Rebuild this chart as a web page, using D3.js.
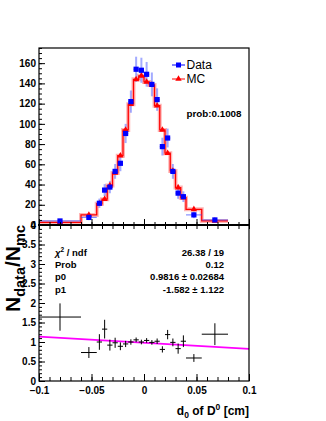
<!DOCTYPE html>
<html>
<head>
<meta charset="utf-8">
<script src="https://cdn.jsdelivr.net/npm/d3@7"></script>
<style>
  body { margin: 0; background: #fff; }
  svg { display: block; font-family: "Liberation Sans", Arial, sans-serif; }
</style>
</head>
<body>
<div id="chart"></div>
<script>
// bin edges of d0 (cm), variable width
var binEdges = [-0.1, -0.06, -0.045, -0.04, -0.035, -0.03, -0.025, -0.02, -0.015, -0.01, -0.005,
	0, 0.005, 0.01, 0.015, 0.02, 0.025, 0.03, 0.035, 0.04, 0.055, 0.08];

// upper pad: counts
var dataCounts = [4, 7.5, 21.5, 34.5, 37.5, 53, 61, 90.5, 122, 154, 153, 149, 139, 124, 77.5, 86, 53, 31.5, 28, 10, 5];
var dataErrors = [2, 2.7, 4.6, 5.9, 6.1, 7.3, 7.8, 9.5, 11, 12.4, 12.4, 12.2, 11.8, 11.1, 8.8, 9.3, 7.3, 5.6, 5.3, 3.2, 2.2];
var mcCounts = [2.5, 10, 21, 25.5, 39, 51.5, 68.5, 94, 119.5, 144, 147.5, 141.5, 138.5, 118, 94, 71, 53.5, 37, 27, 15.5, 4];

// lower pad: ratio data / mc
var ratioVals = [1.64, 0.73, 1.0, 1.33, 0.92, 0.98, 0.89, 0.95, 1.0, 1.055, 1.0, 1.04, 0.99, 1.02, 0.81, 1.19, 0.99, 0.83, 1.02, 0.59, 1.2];
var ratioErrs = [0.35, 0.14, 0.2, 0.24, 0.14, 0.13, 0.1, 0.08, 0.07, 0.06, 0.06, 0.06, 0.06, 0.07, 0.08, 0.12, 0.1, 0.13, 0.15, 0.1, 0.28];

// fit p0 + p1*x
var fitP0 = 0.9816, fitP1 = -1.582;
var statsRows = [
	["χ2 / ndf", "26.38 / 19"],
	["Prob", "0.12"],
	["p0", "0.9816 ± 0.02684"],
	["p1", "-1.582 ± 1.122"]
];

var xTicks = [-0.1, -0.05, 0, 0.05, 0.1];
var yTicksTop = [0, 20, 40, 60, 80, 100, 120, 140, 160];
var yTicksLow = [0, 0.5, 1, 1.5, 2, 2.5, 3, 3.5, 4];

var width = 326, height = 421;
var left = 39, right = 249;
var topY = 48, midY = 225, botY = 381;

var svg = d3.select("#chart").append("svg")
		.attr("width", width)
		.attr("height", height);

var x = d3.scaleLinear().domain([-0.1, 0.1]).range([left, right]);
var yTop = d3.scaleLinear().domain([0, 175]).range([midY, topY]);
var yLow = d3.scaleLinear().domain([0, 4]).range([botY, midY]);

var bins = dataCounts.map(function(d, i) {
	return {
		lo: binEdges[i], hi: binEdges[i + 1],
		mid: (binEdges[i] + binEdges[i + 1]) / 2,
		data: d, err: dataErrors[i], mc: mcCounts[i],
		ratio: ratioVals[i], rerr: ratioErrs[i]
	};
});

function fmtTick(d) {
	return d3.format("")(d);
}

// ---------- upper pad ----------
var up = svg.append("g");

// MC histogram (step) with a soft band
var mcPts = bins.map(function(b) { return [b.lo, b.mc]; });
mcPts.push([binEdges[binEdges.length - 1], mcCounts[mcCounts.length - 1]]);
var stepLine = d3.line()
		.x(function(d) { return x(d[0]); })
		.y(function(d) { return yTop(d[1]); })
		.curve(d3.curveStepAfter);

up.append("path")
	.attr("d", stepLine(mcPts))
	.attr("fill", "none")
	.attr("stroke", "#ff5a5a")
	.attr("stroke-opacity", 0.45)
	.attr("stroke-width", 4);

up.append("path")
	.attr("d", stepLine(mcPts))
	.attr("fill", "none")
	.attr("stroke", "#ff0000")
	.attr("stroke-width", 1.3);

// data error bars
up.selectAll(".vbar").data(bins).enter()
	.append("line")
	.attr("x1", function(d) { return x(d.mid); })
	.attr("x2", function(d) { return x(d.mid); })
	.attr("y1", function(d) { return yTop(d.data - d.err); })
	.attr("y2", function(d) { return yTop(d.data + d.err); })
	.attr("stroke", "#3344ff")
	.attr("stroke-opacity", 0.45)
	.attr("stroke-width", 2);

up.selectAll(".hbar").data(bins).enter()
	.append("line")
	.attr("x1", function(d) { return x(d.lo); })
	.attr("x2", function(d) { return x(d.hi); })
	.attr("y1", function(d) { return yTop(d.data); })
	.attr("y2", function(d) { return yTop(d.data); })
	.attr("stroke", "#3344ff")
	.attr("stroke-opacity", 0.6)
	.attr("stroke-width", 1.2);

// MC markers (triangles)
var tri = d3.symbol().type(d3.symbolTriangle).size(18);
up.selectAll(".mcm").data(bins).enter()
	.append("path")
	.attr("d", tri)
	.attr("transform", function(d) { return "translate(" + x(d.mid) + "," + yTop(d.mc) + ")"; })
	.attr("fill", "#ff0000");

// data markers (squares)
up.selectAll(".dm").data(bins).enter()
	.append("rect")
	.attr("x", function(d) { return x(d.mid) - 2.6; })
	.attr("y", function(d) { return yTop(d.data) - 2.6; })
	.attr("width", 5.2)
	.attr("height", 5.2)
	.attr("fill", "#0000ff");

// frame
up.append("rect")
	.attr("x", left).attr("y", topY)
	.attr("width", right - left).attr("height", midY - topY)
	.attr("fill", "none").attr("stroke", "#000").attr("stroke-width", 1.2);

// upper y axis
var yAxTop = up.append("g")
		.attr("transform", "translate(" + left + ",0)")
		.call(d3.axisLeft(yTop).tickValues(yTicksTop).tickSize(-6).tickPadding(3).tickFormat(fmtTick));
var yMinTop = up.append("g")
		.attr("transform", "translate(" + left + ",0)")
		.call(d3.axisLeft(yTop).tickValues(d3.range(0, 176, 5)).tickSize(-3).tickFormat(""));

// x ticks on the shared edge (up and down)
var xAxMid = up.append("g")
		.attr("transform", "translate(0," + midY + ")")
		.call(d3.axisBottom(x).tickValues(xTicks).tickSize(-6).tickFormat(""));
var xMinMid = up.append("g")
		.attr("transform", "translate(0," + midY + ")")
		.call(d3.axisBottom(x).tickValues(d3.range(-10, 11).map(function(i) { return i / 100; })).tickSize(-3).tickFormat(""));
var xDownMid = up.append("g")
		.attr("transform", "translate(0," + midY + ")")
		.call(d3.axisBottom(x).tickValues(d3.range(-10, 11).map(function(i) { return i / 100; })).tickSize(4).tickFormat(""));

// legend
var legend = up.append("g");
var legItems = [["Data", "#0000ff", "sq", 65], ["MC", "#ff0000", "tri", 79]];
legItems.forEach(function(it) {
	legend.append("line")
		.attr("x1", 172).attr("x2", 185)
		.attr("y1", it[3]).attr("y2", it[3])
		.attr("stroke", it[1]).attr("stroke-width", 1);
	if (it[2] == "sq") {
		legend.append("rect")
			.attr("x", 176).attr("y", it[3] - 2.5)
			.attr("width", 5).attr("height", 5)
			.attr("fill", it[1]);
	} else {
		legend.append("path")
			.attr("d", tri)
			.attr("transform", "translate(178.5," + it[3] + ")")
			.attr("fill", it[1]);
	}
	legend.append("text")
		.attr("x", 186.5).attr("y", it[3] + 4.3)
		.attr("font-size", "12px")
		.text(it[0]);
});

up.append("text")
	.attr("x", 186.5).attr("y", 116.5)
	.attr("font-size", "9.8px")
	.attr("font-weight", "bold")
	.text("prob:0.1008");

// ---------- lower pad ----------
var low = svg.append("g");

// fit line
low.append("line")
	.attr("x1", x(-0.1)).attr("x2", x(0.1))
	.attr("y1", yLow(fitP0 + fitP1 * -0.1))
	.attr("y2", yLow(fitP0 + fitP1 * 0.1))
	.attr("stroke", "#ff00ff")
	.attr("stroke-width", 1.8);

low.selectAll(".rv").data(bins).enter()
	.append("line")
	.attr("x1", function(d) { return x(d.mid); })
	.attr("x2", function(d) { return x(d.mid); })
	.attr("y1", function(d) { return yLow(d.ratio - d.rerr); })
	.attr("y2", function(d) { return yLow(d.ratio + d.rerr); })
	.attr("stroke", "#000").attr("stroke-width", 1);

low.selectAll(".rh").data(bins).enter()
	.append("line")
	.attr("x1", function(d) { return x(d.lo); })
	.attr("x2", function(d) { return x(d.hi); })
	.attr("y1", function(d) { return yLow(d.ratio); })
	.attr("y2", function(d) { return yLow(d.ratio); })
	.attr("stroke", "#000").attr("stroke-width", 1);

low.append("rect")
	.attr("x", left).attr("y", midY)
	.attr("width", right - left).attr("height", botY - midY)
	.attr("fill", "none").attr("stroke", "#000").attr("stroke-width", 1.2);

// thick shared edge
svg.append("line")
	.attr("x1", left - 1).attr("x2", right + 1)
	.attr("y1", midY).attr("y2", midY)
	.attr("stroke", "#000").attr("stroke-width", 2.2);

var yAxLow = low.append("g")
		.attr("transform", "translate(" + left + ",0)")
		.call(d3.axisLeft(yLow).tickValues(yTicksLow).tickSize(-6).tickPadding(3).tickFormat(fmtTick));
var yMinLow = low.append("g")
		.attr("transform", "translate(" + left + ",0)")
		.call(d3.axisLeft(yLow).tickValues(d3.range(0, 41).map(function(i) { return i / 10; })).tickSize(-3).tickFormat(""));

var xAxLow = low.append("g")
		.attr("transform", "translate(0," + botY + ")")
		.call(d3.axisBottom(x).tickValues(xTicks).tickSize(-7).tickPadding(4).tickFormat(fmtTick));
var xMinLow = low.append("g")
		.attr("transform", "translate(0," + botY + ")")
		.call(d3.axisBottom(x).tickValues(d3.range(-10, 11).map(function(i) { return i / 100; })).tickSize(-4).tickFormat(""));

// axis styling ROOT-like
svg.selectAll(".domain").remove();
svg.selectAll(".tick line").attr("stroke", "#000").attr("stroke-width", 1);
svg.selectAll(".tick text")
	.attr("font-family", "Liberation Sans, Arial, sans-serif")
	.attr("font-size", "10px")
	.attr("font-weight", "bold")
	.attr("fill", "#000");
xAxLow.selectAll(".tick text").attr("dy", "0.9em");

// stats box
var stats = low.append("g");
statsRows.forEach(function(r, i) {
	var yy = 255.5 + i * 12.4;
	var t = stats.append("text")
			.attr("x", 55).attr("y", yy)
			.attr("font-size", "9.5px")
			.attr("font-weight", "bold");
	if (i == 0) {
		t.append("tspan").attr("font-style", "italic").text("χ");
		t.append("tspan").attr("font-size", "6.5px").attr("dy", -4).text("2");
		t.append("tspan").attr("dy", 4).text(" / ndf");
	} else {
		t.text(r[0]);
	}
	stats.append("text")
		.attr("x", 224).attr("y", yy)
		.attr("text-anchor", "end")
		.attr("font-size", "9.5px")
		.attr("font-weight", "bold")
		.text(r[1]);
});

// axis titles
var yt = svg.append("text")
		.attr("transform", "translate(20," + midY + ") rotate(-90)")
		.attr("text-anchor", "end")
		.attr("font-size", "21px")
		.attr("font-weight", "bold");
yt.append("tspan").text("N");
yt.append("tspan").attr("font-size", "14.5px").attr("dy", 5).text("data");
yt.append("tspan").attr("dy", -5).text("/N");
yt.append("tspan").attr("font-size", "14.5px").attr("dy", 5).text("mc");

var xt = svg.append("text")
		.attr("x", right).attr("y", 415)
		.attr("text-anchor", "end")
		.attr("font-size", "12px")
		.attr("font-weight", "bold");
xt.append("tspan").text("d");
xt.append("tspan").attr("font-size", "8.5px").attr("dy", 3).text("0");
xt.append("tspan").attr("dy", -3).text(" of D");
xt.append("tspan").attr("font-size", "8.5px").attr("dy", -5).text("0");
xt.append("tspan").attr("dy", 5).text(" [cm]");
</script>
</body>
</html>
